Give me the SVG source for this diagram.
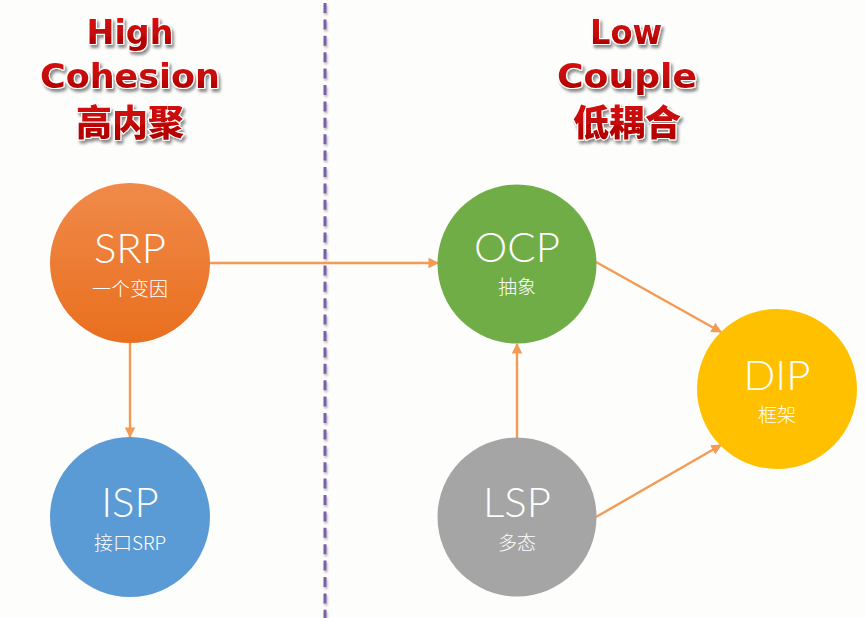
<svg xmlns="http://www.w3.org/2000/svg" width="866" height="618" viewBox="0 0 866 618">
<defs>
<linearGradient id="gRed" x1="0" y1="0" x2="0" y2="1">
<stop offset="0" stop-color="#E01010"/>
<stop offset="1" stop-color="#A80000"/>
</linearGradient>
<linearGradient id="gOrange" x1="0" y1="0" x2="0" y2="1">
<stop offset="0" stop-color="#F08A4A"/>
<stop offset="1" stop-color="#E96F1E"/>
</linearGradient>
<filter id="tshadow" x="-20%" y="-30%" width="140%" height="170%">
<feGaussianBlur in="SourceAlpha" stdDeviation="1.6"/>
<feOffset dx="1.5" dy="2.5" result="b"/>
<feComponentTransfer><feFuncA type="linear" slope="0.45"/></feComponentTransfer>
<feMerge><feMergeNode/><feMergeNode in="SourceGraphic"/></feMerge>
</filter>
<filter id="lshadow" filterUnits="userSpaceOnUse" x="315" y="0" width="20" height="618">
<feGaussianBlur in="SourceAlpha" stdDeviation="1"/>
<feOffset dx="1" dy="1.5"/>
<feComponentTransfer><feFuncA type="linear" slope="0.3"/></feComponentTransfer>
<feMerge><feMergeNode/><feMergeNode in="SourceGraphic"/></feMerge>
</filter>
<marker id="arr" viewBox="0 0 10 10" refX="9" refY="5" markerWidth="4.4" markerHeight="4.4" orient="auto" markerUnits="strokeWidth">
<path d="M0,0 L10,5 L0,10 Z" fill="#F39A55"/>
</marker>
<style>
.title{font-family:"DejaVu Sans","Noto Sans CJK SC",sans-serif;font-weight:bold;font-size:33px;fill:url(#gRed);stroke:#ffffff;stroke-width:2.2px;paint-order:stroke;text-anchor:middle;stroke-linejoin:round}
.cjkt{font-family:"Noto Sans CJK SC","Noto Sans CJK TC",sans-serif;font-weight:900;font-size:36px}
.nt{font-family:"Lato","Open Sans",sans-serif;font-weight:300;font-size:42px;fill:#ffffff;text-anchor:middle}
.ns{font-family:"Noto Sans CJK SC","Lato",sans-serif;font-weight:300;font-size:19px;fill:#ffffff;text-anchor:middle}
.conn{stroke:#F39A55;stroke-width:2.4;fill:none;marker-end:url(#arr)}
</style>
</defs>
<rect width="866" height="618" fill="#FDFDFB"/>
<line x1="325" y1="3" x2="325" y2="618" stroke="#7A60A8" stroke-width="3" stroke-dasharray="10 6.4" filter="url(#lshadow)"/>
<g id="titles" filter="url(#tshadow)">
<text class="title" x="130" y="44" textLength="87" lengthAdjust="spacingAndGlyphs">High</text>
<text class="title" x="130" y="88" textLength="180" lengthAdjust="spacingAndGlyphs">Cohesion</text>
<text class="title cjkt" x="130" y="136">高内聚</text>
<text class="title" x="626" y="44" textLength="72" lengthAdjust="spacingAndGlyphs">Low</text>
<text class="title" x="627" y="88" textLength="140" lengthAdjust="spacingAndGlyphs">Couple</text>
<text class="title cjkt" x="627" y="136">低耦合</text>
</g>
<g id="connectors">
<line class="conn" x1="210" y1="263" x2="438" y2="263"/>
<line class="conn" x1="130" y1="343" x2="130" y2="437"/>
<line class="conn" x1="517" y1="438" x2="517" y2="344"/>
<line class="conn" x1="596" y1="262" x2="721" y2="332"/>
<line class="conn" x1="596" y1="517" x2="721" y2="445"/>
</g>
<g id="SRP">
<circle cx="130" cy="263" r="80" fill="url(#gOrange)"/>
<text class="nt" x="130" y="263">SRP</text>
<text class="ns" x="130" y="296">一个变因</text>
</g>
<g id="ISP">
<circle cx="130" cy="517" r="80" fill="#5B9BD5"/>
<text class="nt" x="130" y="517">ISP</text>
<text class="ns" x="130" y="550">接口SRP</text>
</g>
<g id="OCP">
<circle cx="517" cy="264" r="79.5" fill="#70AD47"/>
<text class="nt" x="517" y="262">OCP</text>
<text class="ns" x="517" y="294">抽象</text>
</g>
<g id="LSP">
<circle cx="517" cy="517" r="79.5" fill="#A5A5A5"/>
<text class="nt" x="517" y="517">LSP</text>
<text class="ns" x="517" y="550">多态</text>
</g>
<g id="DIP">
<circle cx="777" cy="389" r="80" fill="#FFC000"/>
<text class="nt" x="777" y="390">DIP</text>
<text class="ns" x="777" y="422">框架</text>
</g>
</svg>
